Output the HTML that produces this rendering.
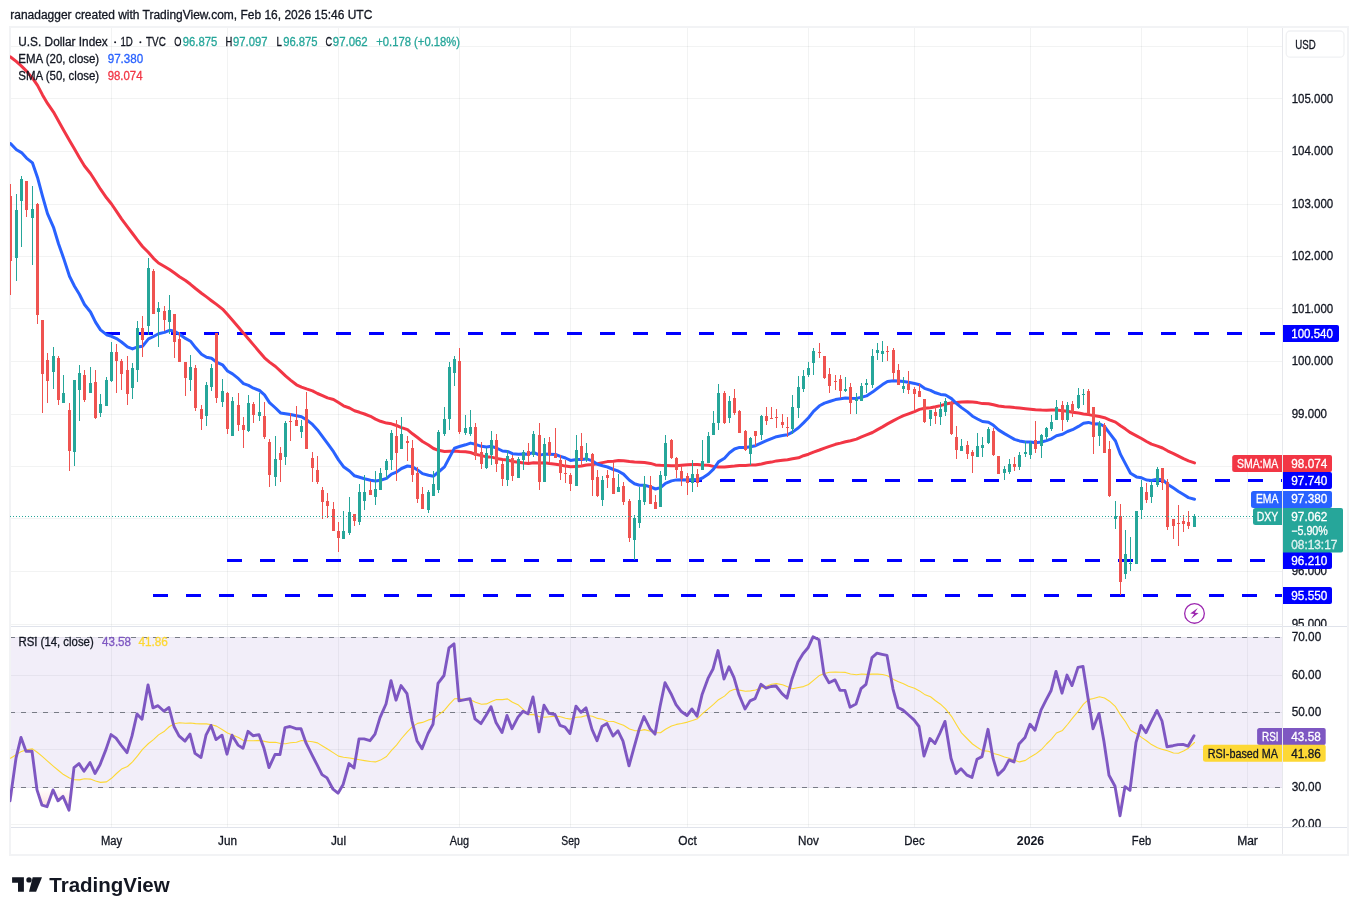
<!DOCTYPE html>
<html lang="en"><head><meta charset="utf-8"><title>U.S. Dollar Index chart</title>
<style>
html,body{margin:0;padding:0;background:#fff;}
body{width:1358px;height:915px;overflow:hidden;font-family:"Liberation Sans", sans-serif;}
svg{display:block;font-family:"Liberation Sans", sans-serif;will-change:transform;transform:translateZ(0);}
text{white-space:pre;}
</style></head>
<body>
<svg width="1358" height="915" viewBox="0 0 1358 915">
<rect x="0" y="0" width="1358" height="915" fill="#fff"/>
<g fill="#f2f3f5" shape-rendering="crispEdges">
<rect x="9" y="26" width="1340" height="2"/>
<rect x="9" y="854" width="1340" height="2"/>
<rect x="9" y="26" width="2" height="830"/>
<rect x="1347" y="26" width="2" height="830"/>
</g>
<g stroke="#2a2e39" stroke-opacity="0.06" stroke-width="1" shape-rendering="crispEdges">
<line x1="11" x2="1282" y1="624.5" y2="624.5"/>
<line x1="11" x2="1282" y1="571.5" y2="571.5"/>
<line x1="11" x2="1282" y1="518.5" y2="518.5"/>
<line x1="11" x2="1282" y1="466.5" y2="466.5"/>
<line x1="11" x2="1282" y1="414.5" y2="414.5"/>
<line x1="11" x2="1282" y1="361.5" y2="361.5"/>
<line x1="11" x2="1282" y1="308.5" y2="308.5"/>
<line x1="11" x2="1282" y1="256.5" y2="256.5"/>
<line x1="11" x2="1282" y1="204.5" y2="204.5"/>
<line x1="11" x2="1282" y1="151.5" y2="151.5"/>
<line x1="11" x2="1282" y1="98.5" y2="98.5"/>
<line x1="11" x2="1282" y1="46.5" y2="46.5"/>
<line x1="111.5" x2="111.5" y1="28" y2="827"/>
<line x1="227.5" x2="227.5" y1="28" y2="827"/>
<line x1="338.5" x2="338.5" y1="28" y2="827"/>
<line x1="459.5" x2="459.5" y1="28" y2="827"/>
<line x1="570.5" x2="570.5" y1="28" y2="827"/>
<line x1="687.5" x2="687.5" y1="28" y2="827"/>
<line x1="808.5" x2="808.5" y1="28" y2="827"/>
<line x1="914.5" x2="914.5" y1="28" y2="827"/>
<line x1="1030.5" x2="1030.5" y1="28" y2="827"/>
<line x1="1141.5" x2="1141.5" y1="28" y2="827"/>
<line x1="1247.5" x2="1247.5" y1="28" y2="827"/>
<line x1="11" x2="1282" y1="637.5" y2="637.5"/>
<line x1="11" x2="1282" y1="675.5" y2="675.5"/>
<line x1="11" x2="1282" y1="712.5" y2="712.5"/>
<line x1="11" x2="1282" y1="749.5" y2="749.5"/>
<line x1="11" x2="1282" y1="787.5" y2="787.5"/>
<line x1="11" x2="1282" y1="824.5" y2="824.5"/>
</g>
<rect x="11" y="637" width="1271" height="151" fill="#7e57c2" fill-opacity="0.1"/>
<g stroke="#787b86" stroke-width="1" stroke-dasharray="5,6" stroke-dashoffset="1" shape-rendering="crispEdges">
<line x1="11" x2="1282" y1="637.5" y2="637.5"/>
<line x1="11" x2="1282" y1="712.5" y2="712.5"/>
<line x1="11" x2="1282" y1="787.5" y2="787.5"/>
</g>
<clipPath id="cpR"><rect x="10" y="627" width="1272" height="200"/></clipPath>
<defs><linearGradient id="gOS" x1="0" y1="0" x2="0" y2="1"><stop offset="0" stop-color="#ef5350" stop-opacity="0"/><stop offset="1" stop-color="#ef5350" stop-opacity="0.28"/></linearGradient></defs>
<clipPath id="cpOS"><rect x="11" y="788" width="1271" height="39"/></clipPath>
<g clip-path="url(#cpOS)"><polygon points="10.5,788 10.5,800.8 16.5,788.0 21.5,788.0 26.5,788.0 32.5,788.0 37.5,789.9 42.5,805.2 47.5,806.7 53.5,789.9 58.5,800.8 63.5,796.4 69.5,810.2 74.5,788.0 79.5,788.0 84.5,788.0 90.5,788.0 95.5,788.0 100.5,788.0 106.5,788.0 111.5,788.0 116.5,788.0 121.5,788.0 127.5,788.0 132.5,788.0 137.5,788.0 142.5,788.0 148.5,788.0 153.5,788.0 158.5,788.0 164.5,788.0 169.5,788.0 174.5,788.0 179.5,788.0 185.5,788.0 190.5,788.0 195.5,788.0 201.5,788.0 206.5,788.0 211.5,788.0 216.5,788.0 222.5,788.0 227.5,788.0 232.5,788.0 238.5,788.0 243.5,788.0 248.5,788.0 253.5,788.0 259.5,788.0 264.5,788.0 269.5,788.0 275.5,788.0 280.5,788.0 285.5,788.0 290.5,788.0 296.5,788.0 301.5,788.0 306.5,788.0 312.5,788.0 317.5,788.0 322.5,788.0 327.5,788.0 333.5,789.2 338.5,793.2 343.5,788.0 349.5,788.0 354.5,788.0 359.5,788.0 364.5,788.0 370.5,788.0 375.5,788.0 380.5,788.0 386.5,788.0 391.5,788.0 396.5,788.0 401.5,788.0 407.5,788.0 412.5,788.0 417.5,788.0 422.5,788.0 428.5,788.0 433.5,788.0 438.5,788.0 444.5,788.0 449.5,788.0 454.5,788.0 459.5,788.0 465.5,788.0 470.5,788.0 475.5,788.0 481.5,788.0 486.5,788.0 491.5,788.0 496.5,788.0 502.5,788.0 507.5,788.0 512.5,788.0 518.5,788.0 523.5,788.0 528.5,788.0 533.5,788.0 539.5,788.0 544.5,788.0 549.5,788.0 555.5,788.0 560.5,788.0 565.5,788.0 570.5,788.0 576.5,788.0 581.5,788.0 586.5,788.0 592.5,788.0 597.5,788.0 602.5,788.0 607.5,788.0 613.5,788.0 618.5,788.0 623.5,788.0 629.5,788.0 634.5,788.0 639.5,788.0 644.5,788.0 650.5,788.0 655.5,788.0 660.5,788.0 665.5,788.0 671.5,788.0 676.5,788.0 681.5,788.0 687.5,788.0 692.5,788.0 697.5,788.0 702.5,788.0 708.5,788.0 713.5,788.0 718.5,788.0 724.5,788.0 729.5,788.0 734.5,788.0 739.5,788.0 745.5,788.0 750.5,788.0 755.5,788.0 761.5,788.0 766.5,788.0 771.5,788.0 776.5,788.0 782.5,788.0 787.5,788.0 792.5,788.0 798.5,788.0 803.5,788.0 808.5,788.0 813.5,788.0 819.5,788.0 824.5,788.0 829.5,788.0 835.5,788.0 840.5,788.0 845.5,788.0 850.5,788.0 856.5,788.0 861.5,788.0 866.5,788.0 872.5,788.0 877.5,788.0 882.5,788.0 887.5,788.0 893.5,788.0 898.5,788.0 903.5,788.0 908.5,788.0 914.5,788.0 919.5,788.0 924.5,788.0 930.5,788.0 935.5,788.0 940.5,788.0 945.5,788.0 951.5,788.0 956.5,788.0 961.5,788.0 967.5,788.0 972.5,788.0 977.5,788.0 982.5,788.0 988.5,788.0 993.5,788.0 998.5,788.0 1004.5,788.0 1009.5,788.0 1014.5,788.0 1019.5,788.0 1025.5,788.0 1030.5,788.0 1035.5,788.0 1041.5,788.0 1046.5,788.0 1051.5,788.0 1056.5,788.0 1062.5,788.0 1067.5,788.0 1072.5,788.0 1078.5,788.0 1083.5,788.0 1088.5,788.0 1093.5,788.0 1099.5,788.0 1104.5,788.0 1109.5,788.0 1115.5,788.0 1120.5,815.7 1125.5,788.0 1130.5,790.3 1136.5,788.0 1141.5,788.0 1146.5,788.0 1151.5,788.0 1157.5,788.0 1162.5,788.0 1167.5,788.0 1173.5,788.0 1178.5,788.0 1183.5,788.0 1188.5,788.0 1194.5,788.0 1194.5,788" fill="url(#gOS)"/></g>
<g clip-path="url(#cpR)" fill="none" stroke-linejoin="round" stroke-linecap="round">
<polyline points="10.5,758.2 16.5,754.5 21.5,751.4 26.5,749.8 32.5,748.9 37.5,752.5 42.5,756.6 47.5,761.1 53.5,766.3 58.5,770.5 63.5,774.6 69.5,778.1 74.5,779.8 79.5,779.9 84.5,778.7 90.5,779.1 95.5,781.0 100.5,782.4 106.5,781.9 111.5,778.3 116.5,773.5 121.5,769.1 127.5,766.5 132.5,761.8 137.5,755.9 142.5,749.4 148.5,743.5 153.5,739.6 158.5,734.9 164.5,731.2 169.5,726.5 174.5,723.8 179.5,722.8 185.5,723.3 190.5,723.0 195.5,723.6 201.5,723.9 206.5,723.9 211.5,724.7 216.5,726.1 222.5,729.7 227.5,733.0 232.5,735.1 238.5,737.6 243.5,740.5 248.5,740.8 253.5,740.8 259.5,740.4 264.5,741.4 269.5,742.4 275.5,742.2 280.5,743.5 285.5,743.7 290.5,742.8 296.5,742.3 301.5,740.5 306.5,741.0 312.5,741.7 317.5,742.9 322.5,746.0 327.5,749.0 333.5,752.9 338.5,756.1 343.5,757.3 349.5,758.0 354.5,758.9 359.5,759.8 364.5,760.6 370.5,761.5 375.5,761.9 380.5,760.1 386.5,756.5 391.5,750.4 396.5,745.1 401.5,738.5 407.5,731.7 412.5,726.6 417.5,723.4 422.5,722.4 428.5,719.9 433.5,718.8 438.5,714.9 444.5,710.2 449.5,704.1 454.5,698.8 459.5,698.6 465.5,699.9 470.5,699.8 475.5,702.2 481.5,704.3 486.5,703.9 491.5,701.5 496.5,699.6 502.5,699.6 507.5,698.9 512.5,702.2 518.5,705.1 523.5,709.7 528.5,714.7 533.5,714.4 539.5,716.7 544.5,717.2 549.5,716.8 555.5,716.1 560.5,716.8 565.5,718.3 570.5,719.1 576.5,717.2 581.5,716.9 586.5,715.5 592.5,716.3 597.5,718.4 602.5,719.3 607.5,721.2 613.5,721.5 618.5,723.4 623.5,725.3 629.5,729.0 634.5,730.6 639.5,730.8 644.5,729.6 650.5,731.2 655.5,732.8 660.5,732.7 665.5,729.3 671.5,726.0 676.5,724.4 681.5,723.5 687.5,722.1 692.5,720.5 697.5,718.7 702.5,713.7 708.5,708.7 713.5,704.4 718.5,699.7 724.5,696.1 729.5,691.3 734.5,689.2 739.5,690.1 745.5,691.2 750.5,690.9 755.5,690.0 761.5,687.8 766.5,686.3 771.5,684.2 776.5,683.6 782.5,684.7 787.5,686.7 792.5,688.8 798.5,687.5 803.5,686.6 808.5,684.5 813.5,680.3 819.5,675.4 824.5,673.5 829.5,672.3 835.5,672.0 840.5,672.2 845.5,672.4 850.5,674.0 856.5,674.7 861.5,674.0 866.5,674.4 872.5,674.1 877.5,674.1 882.5,674.5 887.5,675.8 893.5,679.4 898.5,681.8 903.5,683.7 908.5,686.2 914.5,688.3 919.5,690.9 924.5,694.4 930.5,696.8 935.5,700.7 940.5,704.2 945.5,708.8 951.5,716.3 956.5,724.8 961.5,732.9 967.5,739.0 972.5,744.0 977.5,747.5 982.5,750.6 988.5,751.2 993.5,753.5 998.5,754.8 1004.5,757.0 1009.5,758.2 1014.5,760.3 1019.5,761.9 1025.5,760.4 1030.5,756.9 1035.5,754.1 1041.5,749.5 1046.5,744.0 1051.5,739.1 1056.5,733.0 1062.5,730.4 1067.5,724.5 1072.5,718.1 1078.5,710.8 1083.5,704.1 1088.5,699.6 1093.5,698.5 1099.5,696.8 1104.5,698.0 1109.5,701.2 1115.5,706.7 1120.5,714.9 1125.5,721.8 1130.5,730.3 1136.5,733.8 1141.5,737.4 1146.5,740.7 1151.5,744.6 1157.5,747.8 1162.5,749.4 1167.5,750.7 1173.5,753.0 1178.5,753.2 1183.5,751.0 1188.5,748.2 1194.5,742.5" stroke="#fdd835" stroke-width="1.1"/>
<polyline points="10.0,800.8 16.0,758.2 21.0,737.4 26.0,751.2 32.0,751.2 37.0,789.9 42.0,805.2 47.0,806.7 53.0,789.9 58.0,800.8 63.0,796.4 69.0,810.2 74.0,767.6 79.0,763.6 84.0,771.3 90.0,762.5 95.0,773.5 100.0,764.7 106.0,749.4 111.0,734.6 116.0,738.1 121.0,745.1 127.0,752.7 132.0,735.9 137.0,714.0 142.0,719.3 148.0,684.9 153.0,707.9 158.0,705.7 164.0,711.2 169.0,707.5 174.0,726.5 179.0,735.9 185.0,741.1 190.0,734.1 195.0,753.4 201.0,757.5 206.0,735.2 211.0,725.4 216.0,739.6 222.0,735.2 227.0,754.2 232.0,735.2 238.0,745.1 243.0,748.3 248.0,731.3 253.0,735.7 259.0,734.8 264.0,748.3 269.0,767.6 275.0,754.5 280.0,754.5 285.0,727.6 290.0,726.5 296.0,728.7 301.0,728.7 306.0,742.9 312.0,754.9 317.0,764.7 322.0,774.6 327.0,777.9 333.0,789.2 338.0,793.2 343.0,784.8 349.0,763.6 354.0,768.0 359.0,738.9 364.0,738.9 370.0,740.7 375.0,734.1 380.0,717.7 386.0,704.0 391.0,680.6 396.0,700.2 401.0,685.6 407.0,693.7 412.0,721.0 417.0,740.7 422.0,748.8 428.0,733.5 433.0,724.3 438.0,683.4 444.0,675.5 449.0,647.8 454.0,643.8 459.0,700.9 465.0,699.6 470.0,698.7 475.0,718.8 481.0,723.6 486.0,715.5 491.0,706.8 496.0,722.5 502.0,732.6 507.0,715.5 512.0,728.7 518.0,717.1 523.0,711.2 528.0,713.8 533.0,697.0 539.0,731.9 544.0,705.3 549.0,713.4 555.0,714.5 560.0,725.4 565.0,727.1 570.0,733.5 576.0,706.1 581.0,712.3 586.0,707.9 592.0,729.3 597.0,740.7 602.0,726.5 607.0,723.6 613.0,735.9 618.0,730.8 623.0,741.1 629.0,765.8 634.0,747.7 639.0,729.8 644.0,716.6 650.0,728.7 655.0,734.1 660.0,706.8 665.0,682.7 671.0,693.7 676.0,704.6 681.0,711.2 687.0,715.5 692.0,709.0 697.0,716.2 702.0,694.8 708.0,678.4 713.0,669.0 718.0,650.6 724.0,679.0 729.0,666.8 734.0,677.7 739.0,694.8 745.0,709.0 750.0,700.9 755.0,698.7 761.0,684.3 766.0,688.2 771.0,686.5 776.0,686.0 782.0,693.7 787.0,698.1 792.0,679.0 798.0,662.0 803.0,653.7 808.0,647.8 813.0,636.8 819.0,639.7 824.0,674.0 829.0,682.7 835.0,679.9 840.0,690.4 845.0,690.4 850.0,707.2 856.0,704.0 861.0,688.7 866.0,684.3 872.0,657.6 877.0,653.2 882.0,654.3 887.0,655.4 893.0,689.1 898.0,707.5 903.0,710.1 908.0,714.5 914.0,719.9 919.0,726.5 924.0,756.0 930.0,738.5 935.0,743.5 940.0,733.0 945.0,721.4 951.0,758.2 956.0,773.5 961.0,768.7 967.0,775.2 972.0,777.4 977.0,759.3 982.0,756.6 988.0,729.3 993.0,758.2 998.0,775.0 1004.0,769.1 1009.0,759.9 1014.0,761.9 1019.0,744.0 1025.0,737.4 1030.0,724.3 1035.0,730.2 1041.0,710.1 1046.0,700.2 1051.0,690.8 1056.0,671.4 1062.0,693.2 1067.0,675.1 1072.0,685.6 1078.0,667.4 1083.0,666.4 1088.0,698.1 1093.0,728.7 1099.0,713.4 1104.0,741.8 1109.0,775.2 1115.0,786.2 1120.0,815.7 1125.0,786.6 1130.0,790.3 1136.0,742.4 1141.0,725.4 1146.0,732.6 1151.0,722.1 1157.0,710.5 1162.0,721.0 1167.0,746.8 1173.0,745.7 1178.0,744.6 1183.0,744.4 1188.0,746.2 1194.0,735.7" stroke="#7e57c2" stroke-width="2.9" stroke-linejoin="round"/>
</g>
<clipPath id="cpM"><rect x="10" y="28" width="1272" height="598"/></clipPath>
<g clip-path="url(#cpM)">
<g stroke="#0000ff" stroke-width="3" stroke-dasharray="15,18" shape-rendering="crispEdges">
<line x1="104.6" x2="1282" y1="333.5" y2="333.5"/>
<line x1="687.4" x2="1282" y1="480.5" y2="480.5"/>
<line x1="227.0" x2="1282" y1="560.5" y2="560.5"/>
<line x1="153.4" x2="1282" y1="595.5" y2="595.5"/>
</g>
<polyline points="10.5,56.9 16.5,61.7 21.5,66.1 26.5,71.1 32.5,78.2 37.5,85.4 42.5,94.9 47.5,103.4 53.5,112.1 58.5,121.1 63.5,129.9 69.5,140.4 74.5,149.1 79.5,157.7 84.5,166.0 90.5,173.5 95.5,181.3 100.5,189.2 106.5,197.8 111.5,204.0 116.5,211.4 121.5,218.8 127.5,226.8 132.5,233.5 137.5,240.1 142.5,246.5 148.5,252.5 153.5,258.3 158.5,263.0 164.5,266.5 169.5,269.6 174.5,273.1 179.5,276.7 185.5,280.5 190.5,284.3 195.5,288.5 201.5,293.2 206.5,296.9 211.5,300.7 216.5,304.4 222.5,309.1 227.5,314.6 232.5,320.2 238.5,327.2 243.5,333.1 248.5,339.0 253.5,344.9 259.5,351.9 264.5,357.8 269.5,362.1 275.5,366.5 280.5,371.2 285.5,375.9 290.5,380.1 296.5,384.8 301.5,387.1 306.5,388.9 312.5,390.9 317.5,393.5 322.5,395.6 327.5,397.9 333.5,399.5 338.5,402.6 343.5,405.8 349.5,408.0 354.5,410.8 359.5,412.3 364.5,414.0 370.5,416.3 375.5,419.1 380.5,421.3 386.5,423.1 391.5,423.8 396.5,425.5 401.5,427.6 407.5,429.7 412.5,433.8 417.5,437.5 422.5,441.5 428.5,445.0 433.5,448.5 438.5,450.3 444.5,451.4 449.5,451.2 454.5,451.0 459.5,451.5 465.5,451.7 470.5,452.5 475.5,454.3 481.5,455.6 486.5,456.9 491.5,457.1 496.5,458.4 502.5,459.4 507.5,460.0 512.5,461.4 518.5,462.3 523.5,463.1 528.5,463.5 533.5,462.7 539.5,463.1 544.5,462.8 549.5,463.5 555.5,464.2 560.5,465.1 565.5,466.1 570.5,466.8 576.5,466.4 581.5,466.0 586.5,465.0 592.5,464.5 597.5,463.8 602.5,462.6 607.5,461.6 613.5,461.2 618.5,460.5 623.5,460.7 629.5,461.6 634.5,462.1 639.5,462.3 644.5,462.5 650.5,463.4 655.5,464.9 660.5,465.3 665.5,465.5 671.5,465.8 676.5,465.7 681.5,465.3 687.5,464.8 692.5,464.4 697.5,464.4 702.5,465.0 708.5,465.3 713.5,466.4 718.5,467.1 724.5,466.9 729.5,466.4 734.5,466.1 739.5,465.6 745.5,465.4 750.5,465.1 755.5,465.0 761.5,464.0 766.5,462.8 771.5,462.1 776.5,460.9 782.5,460.2 787.5,459.7 792.5,458.8 798.5,457.8 803.5,455.7 808.5,454.2 813.5,452.1 819.5,450.0 824.5,448.1 829.5,446.4 835.5,444.3 840.5,443.1 845.5,441.7 850.5,440.7 856.5,439.1 861.5,436.9 866.5,434.9 872.5,432.5 877.5,429.6 882.5,426.9 887.5,423.9 893.5,420.6 898.5,418.0 903.5,415.7 908.5,413.8 914.5,411.6 919.5,409.4 924.5,408.3 930.5,407.7 935.5,406.8 940.5,405.6 945.5,404.1 951.5,403.1 956.5,402.6 961.5,401.9 967.5,401.7 972.5,402.1 977.5,402.6 982.5,403.6 988.5,403.7 993.5,404.8 998.5,406.0 1004.5,406.7 1009.5,407.0 1014.5,407.6 1019.5,408.0 1025.5,408.7 1030.5,409.2 1035.5,409.8 1041.5,410.1 1046.5,410.2 1051.5,410.0 1056.5,410.0 1062.5,410.7 1067.5,411.3 1072.5,412.2 1078.5,413.0 1083.5,413.9 1088.5,414.6 1093.5,415.6 1099.5,416.5 1104.5,417.7 1109.5,419.8 1115.5,422.1 1120.5,425.7 1125.5,429.1 1130.5,432.7 1136.5,435.8 1141.5,438.5 1146.5,441.5 1151.5,444.1 1157.5,446.1 1162.5,448.0 1167.5,450.8 1173.5,453.6 1178.5,456.2 1183.5,458.7 1188.5,460.8 1194.5,462.9" fill="none" stroke="#f23645" stroke-width="3" stroke-linejoin="round" stroke-linecap="round"/>
<polyline points="10.5,143.5 16.5,149.8 21.5,152.6 26.5,158.1 32.5,162.9 37.5,177.4 42.5,196.1 47.5,213.7 53.5,227.3 58.5,243.7 63.5,257.9 69.5,276.3 74.5,286.2 79.5,294.5 84.5,304.5 90.5,312.0 95.5,322.1 100.5,329.9 106.5,334.7 111.5,336.3 116.5,338.6 121.5,342.0 127.5,346.9 132.5,348.9 137.5,346.9 142.5,346.3 148.5,338.9 153.5,336.5 158.5,333.7 164.5,332.4 169.5,330.3 174.5,331.3 179.5,334.2 185.5,338.4 190.5,341.2 195.5,347.6 201.5,354.3 206.5,357.3 211.5,358.3 216.5,362.1 222.5,364.8 227.5,371.0 232.5,373.9 238.5,378.7 243.5,383.6 248.5,385.4 253.5,388.2 259.5,390.5 264.5,394.9 269.5,402.6 275.5,408.0 280.5,412.9 285.5,413.8 290.5,414.6 296.5,415.7 301.5,416.7 306.5,419.7 312.5,424.4 317.5,429.9 322.5,436.7 327.5,443.4 333.5,451.7 338.5,459.9 343.5,466.7 349.5,471.0 354.5,475.8 359.5,477.3 364.5,478.7 370.5,480.2 375.5,481.1 380.5,480.3 386.5,478.4 391.5,474.1 396.5,472.1 401.5,468.5 407.5,466.0 412.5,466.8 417.5,469.9 422.5,473.6 428.5,475.3 433.5,476.2 438.5,472.0 444.5,466.9 449.5,457.4 454.5,448.1 459.5,446.5 465.5,444.8 470.5,443.1 475.5,444.3 481.5,446.3 486.5,446.9 491.5,446.3 496.5,448.0 502.5,451.0 507.5,451.4 512.5,453.7 518.5,454.3 523.5,454.1 528.5,454.2 533.5,452.3 539.5,455.1 544.5,454.1 549.5,454.2 555.5,454.5 560.5,456.3 565.5,458.0 570.5,460.4 576.5,459.4 581.5,459.5 586.5,458.9 592.5,460.9 597.5,464.3 602.5,465.8 607.5,467.0 613.5,469.5 618.5,471.2 623.5,474.1 629.5,480.2 634.5,483.8 639.5,485.3 644.5,485.2 650.5,486.9 655.5,489.0 660.5,487.6 665.5,483.4 671.5,480.9 676.5,479.9 681.5,479.8 687.5,480.1 692.5,479.5 697.5,479.8 702.5,478.0 708.5,474.0 713.5,469.1 718.5,461.9 724.5,458.2 729.5,452.8 734.5,449.0 739.5,447.4 745.5,447.6 750.5,446.7 755.5,445.7 761.5,442.8 766.5,440.7 771.5,438.7 776.5,436.7 782.5,435.5 787.5,434.8 792.5,432.1 798.5,427.8 803.5,422.9 808.5,417.7 813.5,411.4 819.5,405.8 824.5,403.1 829.5,401.5 835.5,399.6 840.5,398.8 845.5,397.9 850.5,398.3 856.5,398.4 861.5,397.3 866.5,395.9 872.5,392.1 877.5,388.2 882.5,384.6 887.5,381.5 893.5,380.7 898.5,381.1 903.5,381.6 908.5,382.3 914.5,383.4 919.5,384.8 924.5,388.3 930.5,390.4 935.5,392.8 940.5,394.4 945.5,395.0 951.5,398.6 956.5,403.5 961.5,407.6 967.5,411.9 972.5,416.2 977.5,419.0 982.5,421.5 988.5,422.2 993.5,425.3 998.5,429.9 1004.5,433.6 1009.5,436.5 1014.5,439.4 1019.5,440.9 1025.5,442.0 1030.5,442.1 1035.5,442.7 1041.5,442.0 1046.5,440.6 1051.5,438.8 1056.5,435.8 1062.5,434.3 1067.5,431.5 1072.5,429.7 1078.5,426.4 1083.5,423.3 1088.5,422.4 1093.5,423.9 1099.5,423.8 1104.5,426.5 1109.5,433.1 1115.5,441.0 1120.5,454.4 1125.5,463.9 1130.5,473.3 1136.5,476.9 1141.5,477.8 1146.5,480.0 1151.5,480.4 1157.5,479.3 1162.5,479.7 1167.5,484.2 1173.5,488.1 1178.5,491.5 1183.5,494.6 1188.5,497.6 1194.5,499.3" fill="none" stroke="#2962ff" stroke-width="3" stroke-linejoin="round" stroke-linecap="round"/>
<path d="M16 194h1V281h-1ZM21 176h1V247h-1ZM32 186h1V265h-1ZM53 347h1V389h-1ZM63 375h1V403h-1ZM74 380h1V466h-1ZM79 365h1V421h-1ZM90 367h1V393h-1ZM100 394h1V417h-1ZM106 377h1V406h-1ZM111 342h1V382h-1ZM132 363h1V399h-1ZM137 321h1V382h-1ZM148 258h1V335h-1ZM158 302h1V347h-1ZM169 295h1V334h-1ZM190 355h1V391h-1ZM206 382h1V426h-1ZM211 364h1V391h-1ZM222 379h1V407h-1ZM232 397h1V436h-1ZM248 395h1V432h-1ZM259 393h1V421h-1ZM275 436h1V486h-1ZM285 421h1V465h-1ZM301 420h1V438h-1ZM343 511h1V539h-1ZM349 497h1V535h-1ZM359 484h1V525h-1ZM364 475h1V510h-1ZM375 471h1V505h-1ZM380 468h1V490h-1ZM386 459h1V479h-1ZM391 430h1V470h-1ZM401 417h1V449h-1ZM428 490h1V513h-1ZM433 471h1V496h-1ZM438 430h1V493h-1ZM444 407h1V436h-1ZM449 362h1V430h-1ZM454 356h1V386h-1ZM465 415h1V435h-1ZM470 410h1V436h-1ZM486 448h1V469h-1ZM491 431h1V465h-1ZM507 450h1V486h-1ZM518 457h1V478h-1ZM523 450h1V470h-1ZM533 431h1V457h-1ZM544 438h1V482h-1ZM576 435h1V486h-1ZM586 443h1V462h-1ZM602 476h1V506h-1ZM618 474h1V492h-1ZM634 515h1V560h-1ZM639 487h1V528h-1ZM644 476h1V505h-1ZM660 471h1V507h-1ZM665 435h1V480h-1ZM692 460h1V492h-1ZM702 440h1V470h-1ZM708 432h1V463h-1ZM713 411h1V435h-1ZM718 384h1V430h-1ZM729 396h1V423h-1ZM750 437h1V465h-1ZM761 415h1V440h-1ZM792 395h1V434h-1ZM798 376h1V418h-1ZM803 370h1V392h-1ZM808 362h1V377h-1ZM813 348h1V375h-1ZM845 377h1V392h-1ZM856 393h1V414h-1ZM861 383h1V401h-1ZM866 379h1V393h-1ZM872 349h1V388h-1ZM877 343h1V360h-1ZM882 341h1V362h-1ZM903 377h1V393h-1ZM930 410h1V426h-1ZM940 402h1V425h-1ZM945 398h1V416h-1ZM961 439h1V451h-1ZM977 433h1V457h-1ZM982 437h1V457h-1ZM988 427h1V444h-1ZM1004 466h1V480h-1ZM1009 459h1V474h-1ZM1019 452h1V470h-1ZM1025 441h1V457h-1ZM1030 441h1V459h-1ZM1041 434h1V458h-1ZM1046 427h1V440h-1ZM1051 415h1V431h-1ZM1056 400h1V420h-1ZM1067 402h1V422h-1ZM1078 388h1V409h-1ZM1083 389h1V405h-1ZM1099 421h1V446h-1ZM1115 501h1V529h-1ZM1125 530h1V579h-1ZM1130 537h1V571h-1ZM1136 511h1V564h-1ZM1141 480h1V519h-1ZM1151 481h1V503h-1ZM1157 467h1V487h-1ZM1194 514h1V527h-1ZM15 210h3V258h-3ZM20 179h3V201h-3ZM31 209h3V218h-3ZM52 356h3V372h-3ZM62 393h3V403h-3ZM73 380h3V452h-3ZM78 373h3V390h-3ZM89 383h3V393h-3ZM99 404h3V413h-3ZM105 380h3V406h-3ZM110 352h3V381h-3ZM131 368h3V388h-3ZM136 328h3V370h-3ZM147 268h3V326h-3ZM157 308h3V312h-3ZM168 310h3V322h-3ZM189 367h3V380h-3ZM205 385h3V416h-3ZM210 368h3V387h-3ZM221 391h3V402h-3ZM231 401h3V436h-3ZM247 403h3V431h-3ZM258 412h3V416h-3ZM274 459h3V477h-3ZM284 423h3V457h-3ZM300 426h3V432h-3ZM342 531h3V539h-3ZM348 512h3V533h-3ZM358 492h3V522h-3ZM363 492h3V501h-3ZM374 489h3V497h-3ZM379 473h3V490h-3ZM385 461h3V470h-3ZM390 433h3V460h-3ZM400 434h3V449h-3ZM427 492h3V510h-3ZM432 484h3V496h-3ZM437 432h3V490h-3ZM443 419h3V434h-3ZM448 367h3V419h-3ZM453 359h3V373h-3ZM464 428h3V433h-3ZM469 427h3V434h-3ZM485 453h3V468h-3ZM490 440h3V455h-3ZM506 456h3V480h-3ZM517 459h3V478h-3ZM522 452h3V460h-3ZM532 434h3V455h-3ZM543 444h3V482h-3ZM575 450h3V486h-3ZM585 453h3V460h-3ZM601 480h3V500h-3ZM617 487h3V492h-3ZM633 518h3V540h-3ZM638 500h3V523h-3ZM643 484h3V502h-3ZM659 475h3V507h-3ZM664 443h3V476h-3ZM691 474h3V483h-3ZM701 461h3V470h-3ZM707 436h3V463h-3ZM712 423h3V435h-3ZM717 393h3V423h-3ZM728 401h3V418h-3ZM749 438h3V454h-3ZM760 416h3V435h-3ZM791 407h3V429h-3ZM797 387h3V408h-3ZM802 376h3V389h-3ZM807 368h3V375h-3ZM812 351h3V363h-3ZM844 389h3V391h-3ZM855 399h3V401h-3ZM860 386h3V401h-3ZM865 383h3V385h-3ZM871 356h3V385h-3ZM876 350h3V353h-3ZM881 351h3V354h-3ZM902 386h3V389h-3ZM929 410h3V419h-3ZM939 409h3V417h-3ZM944 401h3V412h-3ZM960 446h3V451h-3ZM976 446h3V457h-3ZM981 445h3V448h-3ZM987 429h3V443h-3ZM1003 469h3V473h-3ZM1008 464h3V472h-3ZM1018 455h3V467h-3ZM1024 452h3V454h-3ZM1029 443h3V455h-3ZM1040 435h3V446h-3ZM1045 428h3V437h-3ZM1050 422h3V429h-3ZM1055 407h3V420h-3ZM1066 405h3V420h-3ZM1077 395h3V408h-3ZM1082 394h3V395h-3ZM1098 423h3V436h-3ZM1114 516h3V519h-3ZM1124 554h3V574h-3ZM1129 563h3V564h-3ZM1135 511h3V564h-3ZM1140 487h3V510h-3ZM1150 485h3V497h-3ZM1156 469h3V485h-3ZM1193 516h3V527h-3Z" fill="#26a69a" shape-rendering="crispEdges"/>
<path d="M10 184h1V295h-1ZM26 181h1V217h-1ZM37 203h1V324h-1ZM42 320h1V413h-1ZM47 353h1V403h-1ZM58 356h1V405h-1ZM69 403h1V471h-1ZM84 370h1V402h-1ZM95 370h1V419h-1ZM116 344h1V393h-1ZM121 359h1V390h-1ZM127 356h1V405h-1ZM142 316h1V357h-1ZM153 269h1V314h-1ZM164 306h1V331h-1ZM174 314h1V358h-1ZM179 332h1V362h-1ZM185 362h1V396h-1ZM195 365h1V411h-1ZM201 405h1V430h-1ZM216 333h1V403h-1ZM227 392h1V434h-1ZM238 393h1V431h-1ZM243 417h1V448h-1ZM253 402h1V423h-1ZM264 402h1V439h-1ZM269 439h1V487h-1ZM280 447h1V482h-1ZM290 413h1V441h-1ZM296 406h1V426h-1ZM306 392h1V449h-1ZM312 452h1V482h-1ZM317 456h1V484h-1ZM322 487h1V519h-1ZM327 493h1V518h-1ZM333 502h1V531h-1ZM338 522h1V552h-1ZM354 514h1V526h-1ZM370 481h1V495h-1ZM396 420h1V481h-1ZM407 436h1V461h-1ZM412 440h1V482h-1ZM417 467h1V503h-1ZM422 487h1V509h-1ZM459 348h1V434h-1ZM475 423h1V460h-1ZM481 442h1V469h-1ZM496 434h1V472h-1ZM502 461h1V486h-1ZM512 455h1V481h-1ZM528 443h1V462h-1ZM539 423h1V490h-1ZM549 437h1V462h-1ZM555 428h1V458h-1ZM560 455h1V480h-1ZM565 460h1V483h-1ZM570 473h1V491h-1ZM581 433h1V466h-1ZM592 453h1V496h-1ZM597 470h1V497h-1ZM607 470h1V488h-1ZM613 462h1V494h-1ZM623 482h1V505h-1ZM629 499h1V542h-1ZM650 476h1V504h-1ZM655 495h1V509h-1ZM671 439h1V459h-1ZM676 457h1V478h-1ZM681 466h1V486h-1ZM687 473h1V495h-1ZM697 469h1V487h-1ZM724 391h1V424h-1ZM734 389h1V415h-1ZM739 410h1V433h-1ZM745 430h1V451h-1ZM755 431h1V446h-1ZM766 407h1V425h-1ZM771 407h1V419h-1ZM776 409h1V428h-1ZM782 414h1V428h-1ZM787 417h1V437h-1ZM819 343h1V358h-1ZM824 356h1V379h-1ZM829 368h1V393h-1ZM835 375h1V390h-1ZM840 375h1V398h-1ZM850 383h1V414h-1ZM887 346h1V361h-1ZM893 348h1V380h-1ZM898 364h1V385h-1ZM908 371h1V394h-1ZM914 387h1V410h-1ZM919 384h1V397h-1ZM924 399h1V423h-1ZM935 407h1V424h-1ZM951 401h1V435h-1ZM956 426h1V459h-1ZM967 441h1V459h-1ZM972 450h1V473h-1ZM993 428h1V456h-1ZM998 456h1V474h-1ZM1014 457h1V471h-1ZM1035 421h1V453h-1ZM1062 401h1V431h-1ZM1072 401h1V417h-1ZM1088 389h1V414h-1ZM1093 407h1V454h-1ZM1104 423h1V453h-1ZM1109 441h1V497h-1ZM1120 504h1V595h-1ZM1146 483h1V503h-1ZM1162 468h1V490h-1ZM1167 479h1V530h-1ZM1173 519h1V539h-1ZM1178 505h1V546h-1ZM1183 515h1V532h-1ZM1188 511h1V529h-1ZM9 196h3V261h-3ZM25 181h3V210h-3ZM36 204h3V315h-3ZM41 320h3V374h-3ZM46 360h3V381h-3ZM57 358h3V400h-3ZM68 410h3V451h-3ZM83 375h3V400h-3ZM94 382h3V418h-3ZM115 352h3V361h-3ZM120 361h3V374h-3ZM126 370h3V394h-3ZM141 328h3V340h-3ZM152 271h3V314h-3ZM163 311h3V320h-3ZM173 314h3V342h-3ZM178 339h3V362h-3ZM184 362h3V378h-3ZM194 368h3V408h-3ZM200 409h3V419h-3ZM215 333h3V398h-3ZM226 393h3V429h-3ZM237 405h3V425h-3ZM242 425h3V430h-3ZM252 404h3V415h-3ZM263 416h3V437h-3ZM268 442h3V475h-3ZM279 453h3V460h-3ZM289 421h3V422h-3ZM295 420h3V426h-3ZM305 409h3V449h-3ZM311 458h3V468h-3ZM316 470h3V482h-3ZM321 490h3V502h-3ZM326 501h3V506h-3ZM332 509h3V531h-3ZM337 531h3V538h-3ZM353 514h3V521h-3ZM369 490h3V495h-3ZM395 436h3V453h-3ZM406 441h3V443h-3ZM411 448h3V475h-3ZM416 473h3V499h-3ZM421 494h3V509h-3ZM458 361h3V432h-3ZM474 427h3V456h-3ZM480 452h3V464h-3ZM495 440h3V464h-3ZM501 464h3V479h-3ZM511 458h3V476h-3ZM527 451h3V456h-3ZM538 435h3V482h-3ZM548 442h3V455h-3ZM554 454h3V458h-3ZM559 460h3V473h-3ZM564 473h3V474h-3ZM569 475h3V484h-3ZM580 446h3V460h-3ZM591 454h3V480h-3ZM596 477h3V496h-3ZM606 475h3V478h-3ZM612 478h3V494h-3ZM622 486h3V502h-3ZM628 501h3V538h-3ZM649 485h3V504h-3ZM654 502h3V509h-3ZM670 440h3V458h-3ZM675 458h3V470h-3ZM680 471h3V479h-3ZM686 476h3V483h-3ZM696 474h3V483h-3ZM723 393h3V423h-3ZM733 398h3V413h-3ZM738 411h3V433h-3ZM744 431h3V450h-3ZM754 431h3V436h-3ZM765 416h3V421h-3ZM770 418h3V419h-3ZM775 417h3V418h-3ZM781 422h3V425h-3ZM786 427h3V428h-3ZM818 352h3V353h-3ZM823 356h3V378h-3ZM828 374h3V386h-3ZM834 381h3V382h-3ZM839 379h3V391h-3ZM849 387h3V403h-3ZM886 351h3V352h-3ZM892 350h3V373h-3ZM897 370h3V385h-3ZM907 384h3V390h-3ZM913 389h3V394h-3ZM918 391h3V397h-3ZM923 399h3V422h-3ZM934 412h3V416h-3ZM950 402h3V434h-3ZM955 437h3V450h-3ZM966 445h3V454h-3ZM971 452h3V456h-3ZM992 431h3V455h-3ZM997 456h3V474h-3ZM1013 464h3V467h-3ZM1034 440h3V449h-3ZM1061 405h3V420h-3ZM1071 404h3V412h-3ZM1087 391h3V414h-3ZM1092 407h3V437h-3ZM1103 425h3V453h-3ZM1108 449h3V496h-3ZM1119 516h3V582h-3ZM1145 492h3V500h-3ZM1161 468h3V483h-3ZM1166 482h3V527h-3ZM1172 519h3V526h-3ZM1177 523h3V524h-3ZM1182 521h3V524h-3ZM1187 522h3V526h-3Z" fill="#ef5350" shape-rendering="crispEdges"/>
<line x1="10" x2="1282" y1="516.5" y2="516.5" stroke="#26a69a" stroke-width="1" stroke-dasharray="1,2" shape-rendering="crispEdges"/>
</g>
<g>
<text x="1291.7" y="102.8" font-size="12" fill="#131722" stroke="#131722" stroke-width="0.3" font-weight="normal" text-anchor="start" textLength="41.5" lengthAdjust="spacingAndGlyphs">105.000</text>
<text x="1291.7" y="155.3" font-size="12" fill="#131722" stroke="#131722" stroke-width="0.3" font-weight="normal" text-anchor="start" textLength="41.5" lengthAdjust="spacingAndGlyphs">104.000</text>
<text x="1291.7" y="207.8" font-size="12" fill="#131722" stroke="#131722" stroke-width="0.3" font-weight="normal" text-anchor="start" textLength="41.5" lengthAdjust="spacingAndGlyphs">103.000</text>
<text x="1291.7" y="260.3" font-size="12" fill="#131722" stroke="#131722" stroke-width="0.3" font-weight="normal" text-anchor="start" textLength="41.5" lengthAdjust="spacingAndGlyphs">102.000</text>
<text x="1291.7" y="312.8" font-size="12" fill="#131722" stroke="#131722" stroke-width="0.3" font-weight="normal" text-anchor="start" textLength="41.5" lengthAdjust="spacingAndGlyphs">101.000</text>
<text x="1291.7" y="365.3" font-size="12" fill="#131722" stroke="#131722" stroke-width="0.3" font-weight="normal" text-anchor="start" textLength="41.5" lengthAdjust="spacingAndGlyphs">100.000</text>
<text x="1291.7" y="417.8" font-size="12" fill="#131722" stroke="#131722" stroke-width="0.3" font-weight="normal" text-anchor="start" textLength="35.3" lengthAdjust="spacingAndGlyphs">99.000</text>
</g>
<clipPath id="cpA"><rect x="1283" y="28" width="64" height="598"/></clipPath>
<g clip-path="url(#cpA)">
<text x="1291.7" y="575.3" font-size="12" fill="#131722" stroke="#131722" stroke-width="0.3" font-weight="normal" text-anchor="start" textLength="35.3" lengthAdjust="spacingAndGlyphs">96.000</text>
<text x="1291.7" y="627.8" font-size="12" fill="#131722" stroke="#131722" stroke-width="0.3" font-weight="normal" text-anchor="start" textLength="35.3" lengthAdjust="spacingAndGlyphs">95.000</text>
</g>
<clipPath id="cpB"><rect x="1283" y="627" width="64" height="200"/></clipPath>
<g clip-path="url(#cpB)">
<text x="1291.7" y="641.4" font-size="12" fill="#131722" stroke="#131722" stroke-width="0.3" font-weight="normal" text-anchor="start" textLength="29.5" lengthAdjust="spacingAndGlyphs">70.00</text>
<text x="1291.7" y="678.8" font-size="12" fill="#131722" stroke="#131722" stroke-width="0.3" font-weight="normal" text-anchor="start" textLength="29.5" lengthAdjust="spacingAndGlyphs">60.00</text>
<text x="1291.7" y="716.2" font-size="12" fill="#131722" stroke="#131722" stroke-width="0.3" font-weight="normal" text-anchor="start" textLength="29.5" lengthAdjust="spacingAndGlyphs">50.00</text>
<text x="1291.7" y="791.0" font-size="12" fill="#131722" stroke="#131722" stroke-width="0.3" font-weight="normal" text-anchor="start" textLength="29.5" lengthAdjust="spacingAndGlyphs">30.00</text>
<text x="1291.7" y="828.4" font-size="12" fill="#131722" stroke="#131722" stroke-width="0.3" font-weight="normal" text-anchor="start" textLength="29.5" lengthAdjust="spacingAndGlyphs">20.00</text>
</g>
<path d="M1283 325.0H1337Q1339 325.0 1339 327.0V340.0Q1339 342.0 1337 342.0H1283Z" fill="#0000ff"/>
<text x="1291.3" y="337.5" font-size="12" fill="#fff" stroke="#fff" stroke-width="0.3" font-weight="normal" text-anchor="start" textLength="41.6" lengthAdjust="spacingAndGlyphs">100.540</text>
<path d="M1283 472.0H1330Q1332 472.0 1332 474.0V487.0Q1332 489.0 1330 489.0H1283Z" fill="#0000ff"/>
<text x="1291.3" y="484.5" font-size="12" fill="#fff" stroke="#fff" stroke-width="0.3" font-weight="normal" text-anchor="start" textLength="36.0" lengthAdjust="spacingAndGlyphs">97.740</text>
<path d="M1283 552.0H1330Q1332 552.0 1332 554.0V567.0Q1332 569.0 1330 569.0H1283Z" fill="#0000ff"/>
<text x="1291.3" y="564.5" font-size="12" fill="#fff" stroke="#fff" stroke-width="0.3" font-weight="normal" text-anchor="start" textLength="36.0" lengthAdjust="spacingAndGlyphs">96.210</text>
<path d="M1283 587.0H1330Q1332 587.0 1332 589.0V602.0Q1332 604.0 1330 604.0H1283Z" fill="#0000ff"/>
<text x="1291.3" y="599.5" font-size="12" fill="#fff" stroke="#fff" stroke-width="0.3" font-weight="normal" text-anchor="start" textLength="36.0" lengthAdjust="spacingAndGlyphs">95.550</text>
<path d="M1282 455.1H1234.7Q1232.2 455.1 1232.2 457.6V469.6Q1232.2 472.1 1234.7 472.1H1282Z" fill="#f23645"/>
<text x="1237.0" y="467.6" font-size="12" fill="#fff" stroke="#fff" stroke-width="0.3" font-weight="normal" text-anchor="start" textLength="41.3" lengthAdjust="spacingAndGlyphs">SMA:MA</text>
<path d="M1283 455.1H1330Q1332 455.1 1332 457.1V470.1Q1332 472.1 1330 472.1H1283Z" fill="#f23645"/>
<text x="1291.3" y="467.6" font-size="12" fill="#fff" stroke="#fff" stroke-width="0.3" font-weight="normal" text-anchor="start" textLength="36.0" lengthAdjust="spacingAndGlyphs">98.074</text>
<path d="M1282 490.9H1253.5Q1251.0 490.9 1251.0 493.4V505.4Q1251.0 507.9 1253.5 507.9H1282Z" fill="#2962ff"/>
<text x="1255.9" y="503.4" font-size="12" fill="#fff" stroke="#fff" stroke-width="0.3" font-weight="normal" text-anchor="start" textLength="22.4" lengthAdjust="spacingAndGlyphs">EMA</text>
<path d="M1283 490.9H1330Q1332 490.9 1332 492.9V505.9Q1332 507.9 1330 507.9H1283Z" fill="#2962ff"/>
<text x="1291.3" y="503.4" font-size="12" fill="#fff" stroke="#fff" stroke-width="0.3" font-weight="normal" text-anchor="start" textLength="36.0" lengthAdjust="spacingAndGlyphs">97.380</text>
<path d="M1282 508.1H1255.5Q1253.0 508.1 1253.0 510.6V522.6Q1253.0 525.1 1255.5 525.1H1282Z" fill="#26a69a"/>
<text x="1256.8" y="520.6" font-size="12" fill="#fff" stroke="#fff" stroke-width="0.3" font-weight="normal" text-anchor="start" textLength="21.5" lengthAdjust="spacingAndGlyphs">DXY</text>
<path d="M1283 508.1H1341Q1343 508.1 1343 510.1V550.6Q1343 552.6 1341 552.6H1283Z" fill="#26a69a"/>
<text x="1291.3" y="520.6" font-size="12" fill="#fff" stroke="#fff" stroke-width="0.3" font-weight="normal" text-anchor="start" textLength="36.0" lengthAdjust="spacingAndGlyphs">97.062</text>
<text x="1291.3" y="534.5" font-size="12" fill="#fff" stroke="#fff" stroke-width="0.3" font-weight="normal" text-anchor="start" textLength="36.5" lengthAdjust="spacingAndGlyphs">−5.90%</text>
<text x="1291.3" y="548.6" font-size="12" fill="#fff" stroke="#fff" stroke-width="0.3" font-weight="normal" text-anchor="start" textLength="46.0" lengthAdjust="spacingAndGlyphs" fill-opacity="0.72">08:13:17</text>
<path d="M1282 728.1H1259.6Q1257.1 728.1 1257.1 730.6V742.6Q1257.1 745.1 1259.6 745.1H1282Z" fill="#7e57c2"/>
<text x="1262.0" y="740.6" font-size="12" fill="#fff" stroke="#fff" stroke-width="0.3" font-weight="normal" text-anchor="start" textLength="16.5" lengthAdjust="spacingAndGlyphs">RSI</text>
<path d="M1283 728.1H1323.7Q1325.7 728.1 1325.7 730.1V743.1Q1325.7 745.1 1323.7 745.1H1283Z" fill="#7e57c2"/>
<text x="1291.3" y="740.6" font-size="12" fill="#fff" stroke="#fff" stroke-width="0.3" font-weight="normal" text-anchor="start" textLength="29.4" lengthAdjust="spacingAndGlyphs">43.58</text>
<path d="M1282 744.8H1205.5Q1203.0 744.8 1203.0 747.3V759.3Q1203.0 761.8 1205.5 761.8H1282Z" fill="#fdd835"/>
<text x="1207.8" y="758.3" font-size="12" fill="#131722" stroke="#131722" stroke-width="0.3" font-weight="normal" text-anchor="start" textLength="70.2" lengthAdjust="spacingAndGlyphs">RSI-based MA</text>
<path d="M1283 744.8H1323.7Q1325.7 744.8 1325.7 746.8V759.8Q1325.7 761.8 1323.7 761.8H1283Z" fill="#fdd835"/>
<text x="1291.3" y="758.3" font-size="12" fill="#131722" stroke="#131722" stroke-width="0.3" font-weight="normal" text-anchor="start" textLength="29.4" lengthAdjust="spacingAndGlyphs">41.86</text>
<circle cx="1194.5" cy="613.4" r="9.85" fill="#fff" stroke="#9c27b0" stroke-width="1.3"/>
<path d="M1197.8 608.1L1190.2 613.5L1194.2 613.9L1191.1 618.8L1198.6 613.1L1194.8 612.7Z" fill="#9c27b0"/>
<g fill="#e0e3eb" shape-rendering="crispEdges">
<rect x="11" y="626" width="1336" height="1"/>
<rect x="11" y="827" width="1336" height="1"/>
<rect x="1282" y="28" width="1" height="826" fill="#e7e8ec"/>
</g>
<rect x="1286.2" y="31" width="57.8" height="26.2" rx="4" fill="#fff" stroke="#f0f1f3" stroke-width="1.3"/>
<text x="1295.3" y="48.8" font-size="12" fill="#131722" stroke="#131722" stroke-width="0.3" font-weight="normal" text-anchor="start" textLength="20.4" lengthAdjust="spacingAndGlyphs">USD</text>
<text x="111.5" y="845.2" font-size="12" fill="#131722" stroke="#131722" stroke-width="0.3" font-weight="normal" text-anchor="middle" textLength="21.2" lengthAdjust="spacingAndGlyphs">May</text>
<text x="227.5" y="845.2" font-size="12" fill="#131722" stroke="#131722" stroke-width="0.3" font-weight="normal" text-anchor="middle" textLength="18.9" lengthAdjust="spacingAndGlyphs">Jun</text>
<text x="338.5" y="845.2" font-size="12" fill="#131722" stroke="#131722" stroke-width="0.3" font-weight="normal" text-anchor="middle" textLength="15.1" lengthAdjust="spacingAndGlyphs">Jul</text>
<text x="459.5" y="845.2" font-size="12" fill="#131722" stroke="#131722" stroke-width="0.3" font-weight="normal" text-anchor="middle" textLength="19.3" lengthAdjust="spacingAndGlyphs">Aug</text>
<text x="570.5" y="845.2" font-size="12" fill="#131722" stroke="#131722" stroke-width="0.3" font-weight="normal" text-anchor="middle" textLength="18.4" lengthAdjust="spacingAndGlyphs">Sep</text>
<text x="687.5" y="845.2" font-size="12" fill="#131722" stroke="#131722" stroke-width="0.3" font-weight="normal" text-anchor="middle" textLength="18.5" lengthAdjust="spacingAndGlyphs">Oct</text>
<text x="808.5" y="845.2" font-size="12" fill="#131722" stroke="#131722" stroke-width="0.3" font-weight="normal" text-anchor="middle" textLength="20.8" lengthAdjust="spacingAndGlyphs">Nov</text>
<text x="914.5" y="845.2" font-size="12" fill="#131722" stroke="#131722" stroke-width="0.3" font-weight="normal" text-anchor="middle" textLength="20.3" lengthAdjust="spacingAndGlyphs">Dec</text>
<text x="1030.5" y="845.2" font-size="12" fill="#131722" font-weight="bold" text-anchor="middle" textLength="27.4" lengthAdjust="spacingAndGlyphs">2026</text>
<text x="1141.5" y="845.2" font-size="12" fill="#131722" stroke="#131722" stroke-width="0.3" font-weight="normal" text-anchor="middle" textLength="19.3" lengthAdjust="spacingAndGlyphs">Feb</text>
<text x="1247.5" y="845.2" font-size="12" fill="#131722" stroke="#131722" stroke-width="0.3" font-weight="normal" text-anchor="middle" textLength="20.7" lengthAdjust="spacingAndGlyphs">Mar</text>
<text x="10.3" y="18.9" font-size="12" fill="#131722" stroke="#131722" stroke-width="0.3" font-weight="normal" text-anchor="start" textLength="362.0" lengthAdjust="spacingAndGlyphs">ranadagger created with TradingView.com, Feb 16, 2026 15:46 UTC</text>
<text x="18.3" y="45.6" font-size="12" fill="#131722" stroke="#131722" stroke-width="0.3" font-weight="normal" text-anchor="start" textLength="89.4" lengthAdjust="spacingAndGlyphs">U.S. Dollar Index</text>
<circle cx="115.1" cy="42.3" r="1" fill="#131722"/>
<text x="120.4" y="45.6" font-size="12" fill="#131722" stroke="#131722" stroke-width="0.3" font-weight="normal" text-anchor="start" textLength="12.4" lengthAdjust="spacingAndGlyphs">1D</text>
<circle cx="140.4" cy="42.3" r="1" fill="#131722"/>
<text x="146.0" y="45.6" font-size="12" fill="#131722" stroke="#131722" stroke-width="0.3" font-weight="normal" text-anchor="start" textLength="19.8" lengthAdjust="spacingAndGlyphs">TVC</text>
<text x="174.3" y="45.6" font-size="12" fill="#131722" stroke="#131722" stroke-width="0.3" font-weight="normal" text-anchor="start" textLength="7.2" lengthAdjust="spacingAndGlyphs">O</text>
<text x="182.8" y="45.6" font-size="12" fill="#26a69a" stroke="#26a69a" stroke-width="0.3" font-weight="normal" text-anchor="start" textLength="34.4" lengthAdjust="spacingAndGlyphs">96.875</text>
<text x="225.6" y="45.6" font-size="12" fill="#131722" stroke="#131722" stroke-width="0.3" font-weight="normal" text-anchor="start" textLength="6.8" lengthAdjust="spacingAndGlyphs">H</text>
<text x="233.0" y="45.6" font-size="12" fill="#26a69a" stroke="#26a69a" stroke-width="0.3" font-weight="normal" text-anchor="start" textLength="34.4" lengthAdjust="spacingAndGlyphs">97.097</text>
<text x="276.5" y="45.6" font-size="12" fill="#131722" stroke="#131722" stroke-width="0.3" font-weight="normal" text-anchor="start" textLength="5.3" lengthAdjust="spacingAndGlyphs">L</text>
<text x="283.2" y="45.6" font-size="12" fill="#26a69a" stroke="#26a69a" stroke-width="0.3" font-weight="normal" text-anchor="start" textLength="34.4" lengthAdjust="spacingAndGlyphs">96.875</text>
<text x="325.5" y="45.6" font-size="12" fill="#131722" stroke="#131722" stroke-width="0.3" font-weight="normal" text-anchor="start" textLength="6.6" lengthAdjust="spacingAndGlyphs">C</text>
<text x="332.8" y="45.6" font-size="12" fill="#26a69a" stroke="#26a69a" stroke-width="0.3" font-weight="normal" text-anchor="start" textLength="34.9" lengthAdjust="spacingAndGlyphs">97.062</text>
<text x="376.3" y="45.6" font-size="12" fill="#26a69a" stroke="#26a69a" stroke-width="0.3" font-weight="normal" text-anchor="start" textLength="83.7" lengthAdjust="spacingAndGlyphs">+0.178 (+0.18%)</text>
<text x="18.3" y="63.0" font-size="12" fill="#131722" stroke="#131722" stroke-width="0.3" font-weight="normal" text-anchor="start" textLength="80.9" lengthAdjust="spacingAndGlyphs">EMA (20, close)</text>
<text x="107.7" y="63.0" font-size="12" fill="#2962ff" stroke="#2962ff" stroke-width="0.3" font-weight="normal" text-anchor="start" textLength="35.5" lengthAdjust="spacingAndGlyphs">97.380</text>
<text x="18.3" y="80.0" font-size="12" fill="#131722" stroke="#131722" stroke-width="0.3" font-weight="normal" text-anchor="start" textLength="80.9" lengthAdjust="spacingAndGlyphs">SMA (50, close)</text>
<text x="107.7" y="80.0" font-size="12" fill="#f23645" stroke="#f23645" stroke-width="0.3" font-weight="normal" text-anchor="start" textLength="34.8" lengthAdjust="spacingAndGlyphs">98.074</text>
<text x="18.5" y="645.6" font-size="12" fill="#131722" stroke="#131722" stroke-width="0.3" font-weight="normal" text-anchor="start" textLength="75.2" lengthAdjust="spacingAndGlyphs">RSI (14, close)</text>
<text x="102.0" y="645.6" font-size="12" fill="#7e57c2" stroke="#7e57c2" stroke-width="0.3" font-weight="normal" text-anchor="start" textLength="29.0" lengthAdjust="spacingAndGlyphs">43.58</text>
<text x="138.4" y="645.6" font-size="12" fill="#fdd835" stroke="#fdd835" stroke-width="0.3" font-weight="normal" text-anchor="start" textLength="29.5" lengthAdjust="spacingAndGlyphs">41.86</text>
<g fill="#131722">
<path d="M12.1 877.2H23.9V891.7H18V882.8H12.1Z"/>
<circle cx="29" cy="879.9" r="2.7"/>
<path d="M32.7 877.2H42L36.1 891.7H29Z"/>
</g>
<text x="49.3" y="891.7" font-size="20" fill="#131722" font-weight="bold" text-anchor="start" textLength="120.4" lengthAdjust="spacingAndGlyphs">TradingView</text>
</svg>
</body></html>
